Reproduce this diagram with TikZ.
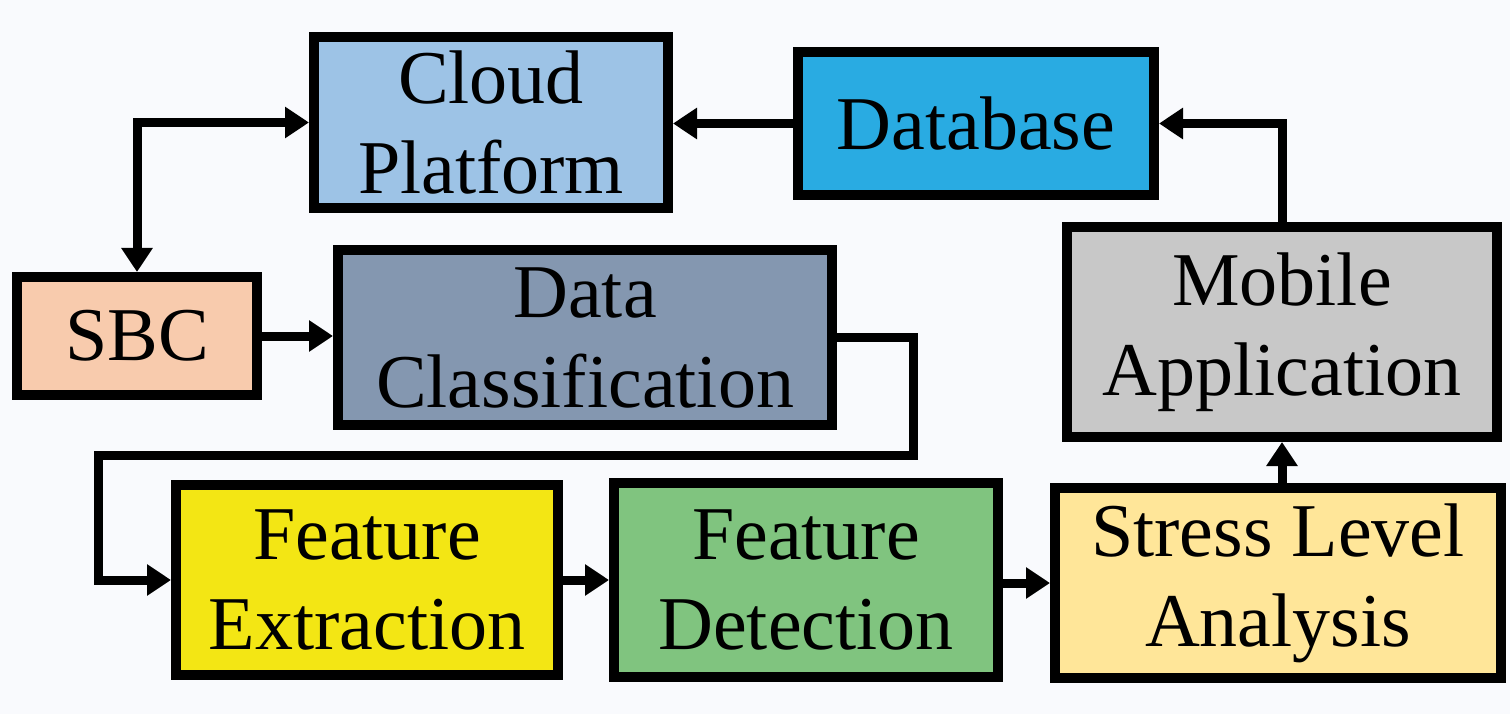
\documentclass[tikz,border=0pt]{standalone}
\usepackage{fontspec}
\setmainfont{Liberation Serif}
\usetikzlibrary{arrows.meta}

\definecolor{bgcol}{HTML}{F9FAFD}
\definecolor{cloudcol}{HTML}{9DC3E6}
\definecolor{dbcol}{HTML}{29ABE2}
\definecolor{sbccol}{HTML}{F8CBAD}
\definecolor{classcol}{HTML}{8497B0}
\definecolor{mobilecol}{HTML}{C8C8C8}
\definecolor{extractcol}{HTML}{F3E614}
\definecolor{detectcol}{HTML}{80C47F}
\definecolor{stresscol}{HTML}{FFE699}

\begin{document}
\begin{tikzpicture}[x=1pt, y=-1pt,
  box/.style={draw=black, line width=10pt, inner sep=0pt, align=center,
    font=\fontsize{76}{90}\selectfont},
  link/.style={line width=9pt, line join=miter},
  >={Triangle[length=24pt,width=30pt]}]

  % canvas
  \fill[bgcol] (0,0) rectangle (1510,714);
  \useasboundingbox (0,0) rectangle (1510,714);

  % blocks
  \node[box, fill=cloudcol,   minimum width=354pt, minimum height=171pt] (cloud)   at (491,122.5) {Cloud\\Platform};
  \node[box, fill=dbcol,      minimum width=356pt, minimum height=143pt] (db)      at (976,123.5) {Database};
  \node[box, fill=sbccol,     minimum width=240pt, minimum height=118pt] (sbc)     at (137,336)   {SBC};
  \node[box, fill=classcol,   minimum width=494pt, minimum height=175pt] (class)   at (585,337.5) {Data\\Classification};
  \node[box, fill=mobilecol,  minimum width=430pt, minimum height=210pt] (mobile)  at (1282,332)  {Mobile\\Application};
  \node[box, fill=extractcol, minimum width=382pt, minimum height=190pt] (extract) at (367,580)   {Feature\\Extraction};
  \node[box, fill=detectcol,  minimum width=384pt, minimum height=194pt] (detect)  at (806,580)   {Feature\\Detection};
  \node[box, fill=stresscol,  minimum width=446pt, minimum height=190pt] (stress)  at (1278,583)  {Stress Level\\Analysis};

  % routing points of the loop from classification to extraction
  \coordinate (loopR) at (913,455);
  \coordinate (loopL) at (98,455);

  % connectors
  \draw[link, ->]  (db.west) -- (db.west -| cloud.east);
  \draw[link, <->] (sbc.north) |- (cloud.west);
  \draw[link, ->]  (sbc.east) -- (sbc.east -| class.west);
  \draw[link, ->]  (class.east) -| (loopR) -- (loopL) |- (extract.west);
  \draw[link, ->]  (extract.east) -- (detect.west);
  \draw[link, ->]  (stress.west -| detect.east) -- (stress.west);
  \draw[link, ->]  (mobile.south |- stress.north) -- (mobile.south);
  \draw[link, ->]  (mobile.north) |- (db.east);
\end{tikzpicture}
\end{document}
